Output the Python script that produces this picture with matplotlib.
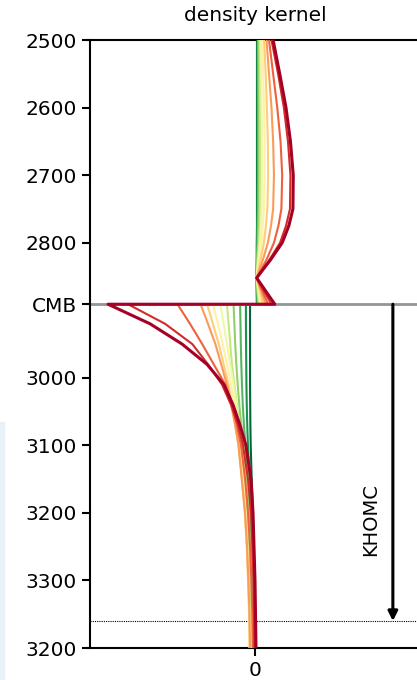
import numpy as np
import matplotlib
matplotlib.use('Agg')
import matplotlib.pyplot as plt
from matplotlib.patches import Rectangle

# depth samples (km) above and below the core-mantle boundary
cmb = 2891
mantle_depth = [2500, 2550, 2600, 2650, 2700, 2750, 2775, 2800, 2825, 2852,
                2891]
core_depth = [2891, 2920, 2950, 2980, 3010, 3040, 3070, 3100, 3150, 3200,
              3250, 3300, 3350, 3400]

# kernel values in the lowermost mantle, weakest (green) to strongest (red)
mantle_k = [
    [0.012, 0.012, 0.012, 0.012, 0.012, 0.012, 0.012, 0.011, 0.011, 0.010, 0.011],
    [0.015, 0.015, 0.015, 0.015, 0.015, 0.014, 0.013, 0.012, 0.011, 0.010, 0.013],
    [0.018, 0.018, 0.019, 0.019, 0.019, 0.018, 0.017, 0.015, 0.012, 0.010, 0.016],
    [0.022, 0.023, 0.024, 0.024, 0.024, 0.023, 0.021, 0.019, 0.014, 0.010, 0.020],
    [0.028, 0.030, 0.031, 0.032, 0.032, 0.030, 0.028, 0.024, 0.017, 0.010, 0.025],
    [0.035, 0.038, 0.040, 0.042, 0.042, 0.040, 0.036, 0.030, 0.020, 0.010, 0.032],
    [0.045, 0.050, 0.055, 0.058, 0.058, 0.054, 0.048, 0.040, 0.026, 0.010, 0.040],
    [0.055, 0.065, 0.072, 0.078, 0.080, 0.075, 0.066, 0.054, 0.034, 0.010, 0.050],
    [0.070, 0.085, 0.100, 0.110, 0.115, 0.110, 0.097, 0.078, 0.048, 0.010, 0.065],
    [0.085, 0.110, 0.135, 0.155, 0.165, 0.160, 0.142, 0.115, 0.070, 0.010, 0.080],
    [0.100, 0.140, 0.175, 0.200, 0.215, 0.212, 0.188, 0.152, 0.088, 0.010, 0.100],
    [0.110, 0.150, 0.188, 0.215, 0.232, 0.230, 0.205, 0.165, 0.095, 0.010, 0.120],
]

# kernel values in the outermost core
core_k = [
    [-0.030, -0.030, -0.030, -0.030, -0.030, -0.029, -0.028, -0.026, -0.020,
     -0.013, -0.008, -0.005, -0.003, -0.002],
    [-0.055, -0.055, -0.054, -0.053, -0.052, -0.050, -0.047, -0.043, -0.033,
     -0.022, -0.014, -0.009, -0.006, -0.004],
    [-0.090, -0.088, -0.086, -0.083, -0.079, -0.074, -0.067, -0.058, -0.043,
     -0.030, -0.020, -0.014, -0.010, -0.008],
    [-0.130, -0.125, -0.120, -0.113, -0.105, -0.095, -0.083, -0.070, -0.052,
     -0.038, -0.028, -0.020, -0.015, -0.012],
    [-0.170, -0.160, -0.150, -0.140, -0.125, -0.110, -0.095, -0.080, -0.060,
     -0.045, -0.035, -0.028, -0.022, -0.018],
    [-0.210, -0.190, -0.170, -0.150, -0.130, -0.114, -0.100, -0.088, -0.072,
     -0.058, -0.048, -0.040, -0.035, -0.032],
    [-0.255, -0.225, -0.195, -0.170, -0.145, -0.125, -0.108, -0.093, -0.075,
     -0.060, -0.049, -0.041, -0.035, -0.032],
    [-0.290, -0.255, -0.220, -0.190, -0.160, -0.140, -0.120, -0.100, -0.080,
     -0.062, -0.050, -0.042, -0.036, -0.032],
    [-0.330, -0.285, -0.240, -0.205, -0.170, -0.145, -0.120, -0.100, -0.080,
     -0.060, -0.048, -0.040, -0.033, -0.030],
    [-0.470, -0.394, -0.320, -0.250, -0.180, -0.140, -0.110, -0.085, -0.060,
     -0.042, -0.030, -0.022, -0.016, -0.012],
    [-0.770, -0.545, -0.380, -0.285, -0.200, -0.145, -0.103, -0.073, -0.042,
     -0.024, -0.015, -0.009, -0.006, -0.003],
    [-0.891, -0.636, -0.442, -0.291, -0.188, -0.133, -0.091, -0.055, -0.024,
     -0.012, -0.006, 0.000, 0.003, 0.006],
]

ytick_pos = [2500, 2600, 2700, 2800, cmb, 3000, 3100, 3200, 3300, 3400]
ytick_lab = ['2500', '2600', '2700', '2800', 'CMB', '3000', '3100', '3200',
             '3300', '3200']
khomc_bottom = 3360

fig = plt.figure(figsize=(4.17, 6.8), dpi=100)
ax = fig.add_axes([0.216, 0.047, 0.791, 0.894])

# core-mantle boundary and bottom of the KHOMC layer
ax.axhline(cmb, color='#959595', lw=2.0, zorder=1)
ax.axhline(khomc_bottom, color='black', lw=0.8, ls=(0, (1, 1)), zorder=1)

cmap = plt.get_cmap('RdYlGn_r')
n = len(mantle_k)
for i in range(n):
    x = list(mantle_k[i]) + list(core_k[i])
    y = list(mantle_depth) + list(core_depth)
    lw = 2.2 if i == n - 1 else 1.5
    ax.plot(x, y, color=cmap(i / (n - 1)), lw=lw, zorder=2 + i,
            solid_joinstyle='round')

ax.annotate('', xy=(0.836, khomc_bottom), xytext=(0.836, cmb),
            arrowprops=dict(arrowstyle='-|>', color='black', lw=2.2,
                            mutation_scale=14, shrinkA=0, shrinkB=0))
ax.text(0.70, 3210, 'KHOMC', rotation=90, ha='center', va='center',
        fontsize=14)

ax.set_xlim(-1, 1)
ax.set_ylim(3400, 2500)
ax.set_yticks(ytick_pos)
ax.set_yticklabels(ytick_lab)
ax.set_xticks([0])
ax.set_xticklabels(['0'])
ax.tick_params(labelsize=14.5, width=1.5, length=6)
for s in ['left', 'top', 'bottom']:
    ax.spines[s].set_linewidth(1.5)
ax.set_title('density kernel', fontsize=14.5, pad=14)

# pale strip along the lower left edge
fig.patches.append(Rectangle((0, 0), 0.01, 0.38, transform=fig.transFigure,
                             color='#e6f2f6', zorder=-1))

fig.savefig('out.png', dpi=100)
